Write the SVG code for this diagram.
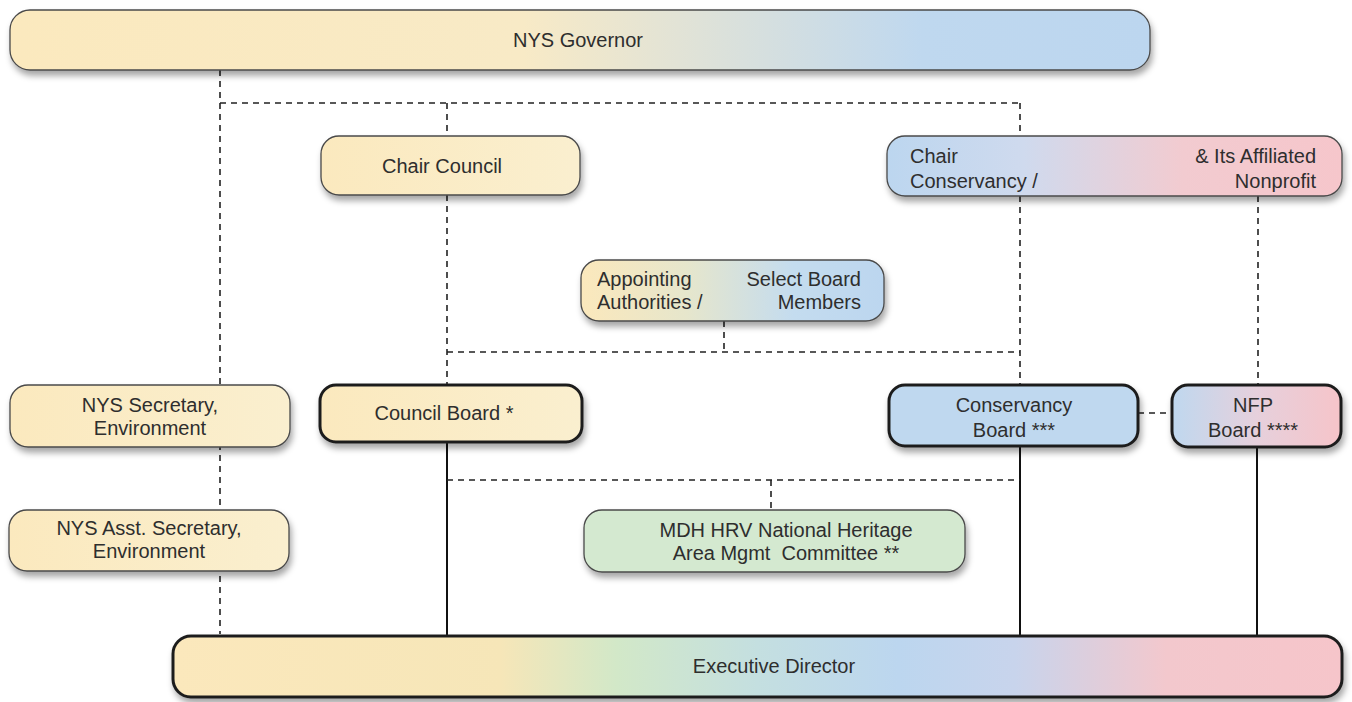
<svg xmlns="http://www.w3.org/2000/svg" width="1352" height="702" viewBox="0 0 1352 702">
<defs>
<filter id="sh" x="-10%" y="-20%" width="120%" height="160%">
<feDropShadow dx="2" dy="5" stdDeviation="3" flood-color="#000" flood-opacity="0.35"/>
</filter>
<linearGradient id="gGov" x1="0" y1="0" x2="1" y2="0">
<stop offset="0" stop-color="#fbe9be"/><stop offset="0.45" stop-color="#f8eac6"/><stop offset="0.8" stop-color="#bfd8ef"/><stop offset="1" stop-color="#bcd6ef"/>
</linearGradient>
<linearGradient id="gYel" x1="0" y1="0" x2="1" y2="0">
<stop offset="0" stop-color="#fbe9be"/><stop offset="1" stop-color="#faefcf"/>
</linearGradient>
<linearGradient id="gChairC" x1="0" y1="0" x2="1" y2="0">
<stop offset="0" stop-color="#bcd6ef"/><stop offset="0.3" stop-color="#cfdaee"/><stop offset="0.65" stop-color="#f2cbd0"/><stop offset="1" stop-color="#f6c6cb"/>
</linearGradient>
<linearGradient id="gApp" x1="0" y1="0" x2="1" y2="0">
<stop offset="0" stop-color="#fbe8bc"/><stop offset="0.35" stop-color="#e6e6cc"/><stop offset="0.7" stop-color="#c4dcef"/><stop offset="1" stop-color="#bcd6ef"/>
</linearGradient>
<linearGradient id="gNfp" x1="0" y1="0" x2="1" y2="0">
<stop offset="0" stop-color="#bfd8ef"/><stop offset="0.5" stop-color="#e6d0dc"/><stop offset="1" stop-color="#f6c4c9"/>
</linearGradient>
<linearGradient id="gExec" x1="0" y1="0" x2="1" y2="0">
<stop offset="0" stop-color="#fbe8bc"/><stop offset="0.28" stop-color="#f6e6b8"/><stop offset="0.38" stop-color="#d2e8c8"/><stop offset="0.5" stop-color="#c4dfe0"/><stop offset="0.62" stop-color="#bcd6ef"/><stop offset="0.72" stop-color="#c8d4ec"/><stop offset="0.85" stop-color="#f3c8cd"/><stop offset="1" stop-color="#f6c5ca"/>
</linearGradient>
</defs>
<style>
.box{stroke:#4a4a4a;stroke-width:1.3;filter:url(#sh)}
.bold{stroke:#1e1e1e;stroke-width:3;filter:url(#sh)}
.t{font-family:"Liberation Sans",Arial,sans-serif;font-size:20px;fill:#2e2e2e}
.m{text-anchor:middle}
.e{text-anchor:end}
.d{fill:none;stroke:#222;stroke-width:1.6;stroke-dasharray:6 5}
.s{fill:none;stroke:#111;stroke-width:2}
</style>
<rect width="1352" height="702" fill="#ffffff"/>
<g id="connectors">
<path class="d" d="M220 70 V634"/>
<path class="d" d="M220 103 H1020"/>
<path class="d" d="M447 103 V137"/>
<path class="d" d="M1020 103 V137"/>
<path class="d" d="M447 195 V385"/>
<path class="d" d="M1020 196 V385"/>
<path class="d" d="M447 352 H1020"/>
<path class="d" d="M724 321 V352"/>
<path class="d" d="M1258 196 V385"/>
<path class="d" d="M1138 413 H1172"/>
<path class="s" d="M447 442 V636"/>
<path class="s" d="M1020 446 V636"/>
<path class="s" d="M1257 447 V636"/>
<path class="d" d="M447 480 H1020"/>
<path class="d" d="M771 480 V511"/>
</g>
<g id="governor">
<rect class="box" x="10" y="10" width="1140" height="60" rx="20" fill="url(#gGov)"/>
<text class="t m" x="578" y="47">NYS Governor</text>
</g>
<g id="chair-council">
<rect class="box" x="321" y="136" width="259" height="59" rx="18" fill="url(#gYel)"/>
<text class="t m" x="442" y="173">Chair Council</text>
</g>
<g id="chair-conservancy">
<rect class="box" x="887" y="136" width="455" height="60" rx="18" fill="url(#gChairC)"/>
<text class="t" x="910" y="163">Chair</text>
<text class="t" x="910" y="188">Conservancy /</text>
<text class="t e" x="1316" y="163">&amp; Its Affiliated</text>
<text class="t e" x="1316" y="188">Nonprofit</text>
</g>
<g id="appointing">
<rect class="box" x="581" y="260" width="303" height="61" rx="18" fill="url(#gApp)"/>
<text class="t" x="597" y="286">Appointing</text>
<text class="t" x="597" y="309">Authorities /</text>
<text class="t e" x="861" y="286">Select Board</text>
<text class="t e" x="861" y="309">Members</text>
</g>
<g id="nys-secretary">
<rect class="box" x="10" y="385" width="280" height="62" rx="18" fill="url(#gYel)"/>
<text class="t m" x="150" y="412">NYS Secretary,</text>
<text class="t m" x="150" y="435">Environment</text>
</g>
<g id="council-board">
<rect class="bold" x="320" y="385" width="262" height="57" rx="16" fill="url(#gYel)"/>
<text class="t m" x="444" y="420">Council Board *</text>
</g>
<g id="conservancy-board">
<rect class="bold" x="889" y="385" width="249" height="61" rx="16" fill="#bfd8ef"/>
<text class="t m" x="1014" y="412">Conservancy</text>
<text class="t m" x="1014" y="437">Board ***</text>
</g>
<g id="nfp-board">
<rect class="bold" x="1172" y="385" width="169" height="62" rx="16" fill="url(#gNfp)"/>
<text class="t m" x="1253" y="412">NFP</text>
<text class="t m" x="1253" y="437">Board ****</text>
</g>
<g id="nys-asst-secretary">
<rect class="box" x="9" y="510" width="280" height="61" rx="18" fill="url(#gYel)"/>
<text class="t m" x="149" y="535">NYS Asst. Secretary,</text>
<text class="t m" x="149" y="558">Environment</text>
</g>
<g id="mdh-committee">
<rect class="box" x="584" y="510" width="381" height="62" rx="18" fill="#d4e9d0"/>
<text class="t m" x="786" y="537">MDH HRV National Heritage</text>
<text class="t m" x="786" y="560" xml:space="preserve">Area Mgmt  Committee **</text>
</g>
<g id="executive-director">
<rect class="bold" x="173" y="636" width="1169" height="61" rx="18" fill="url(#gExec)"/>
<text class="t m" x="774" y="673">Executive Director</text>
</g>
</svg>
